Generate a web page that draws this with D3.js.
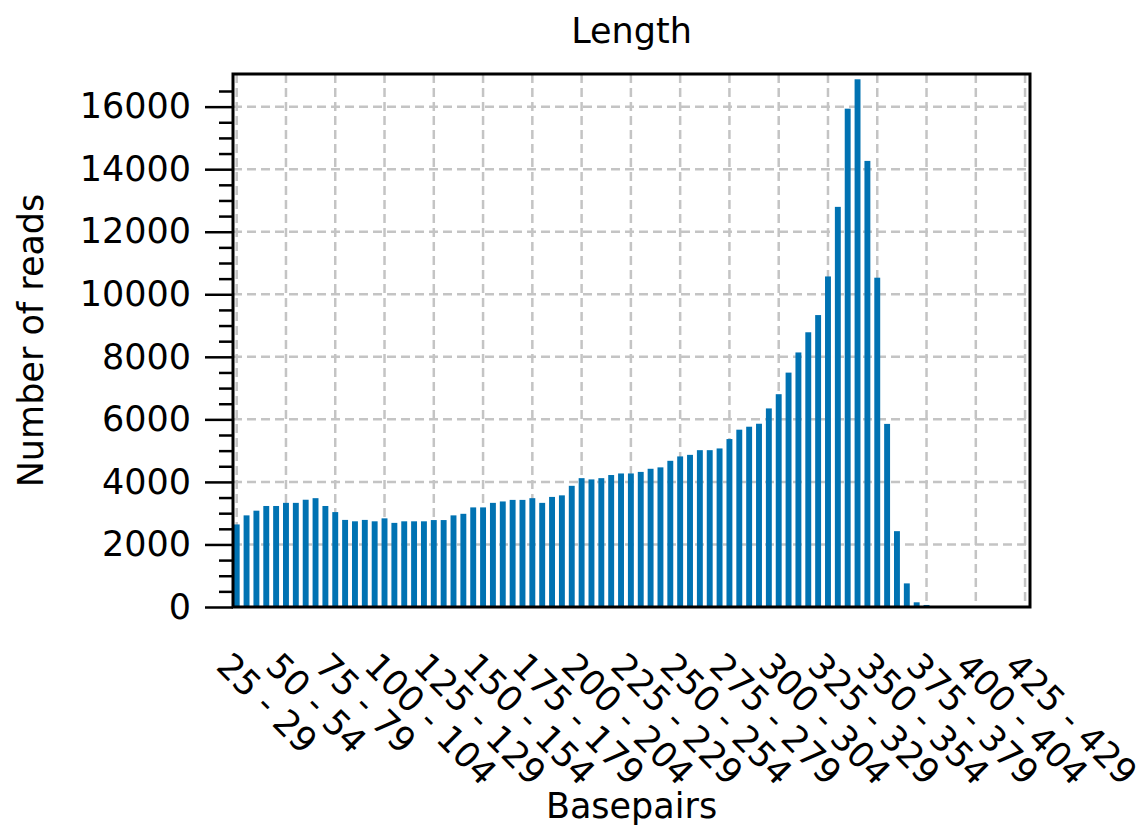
<!DOCTYPE html>
<html>
<head>
<meta charset="utf-8">
<script src="https://cdn.jsdelivr.net/npm/d3@7"></script>
<style>
  body { margin: 0; background: #fff; }
  text { font-family: "DejaVu Sans", sans-serif; fill: #000; }
</style>
</head>
<body>
<svg id="chart" width="1145" height="830"></svg>
<script>

// read counts per 5 bp bin, starting at 25 - 29
const binStarts = d3.range( 25, 430, 5 );

const readCounts = [
  2640, 2930, 3080, 3230, 3230, 3330, 3330, 3430, 3480, 3230,
  3035, 2785, 2740, 2785, 2740, 2835, 2690, 2740, 2740, 2740,
  2780, 2780, 2930, 2980, 3185, 3185, 3330, 3375, 3425, 3425,
  3480, 3330, 3520, 3570, 3875, 4120, 4080, 4120, 4220, 4270,
  4270, 4320, 4420, 4465, 4675, 4815, 4865, 5015, 5015, 5070,
  5370, 5670, 5765, 5860, 6350, 6805, 7495, 8140, 8785, 9335,
  10570, 12795, 15935, 16875, 14265, 10530, 5855, 2425, 755, 150,
  65, 0, 0, 0, 0, 0, 0, 0, 0, 0, 0
];

const tickLabels = [
  "25 - 29", "50 - 54", "75 - 79", "100 - 104", "125 - 129", "150 - 154",
  "175 - 179", "200 - 204", "225 - 229", "250 - 254", "275 - 279",
  "300 - 304", "325 - 329", "350 - 354", "375 - 379", "400 - 404", "425 - 429"
];

const yTicks = [ 0, 2000, 4000, 6000, 8000, 10000, 12000, 14000, 16000 ];

const plot = { left: 233, right: 1030, top: 74, bottom: 607 };
const bar_color = "#0072b2";
const grid_color = "#c4c4c4";
const font_size = "35px";

const svg = d3.select( "#chart" );

const x = d3.scaleLinear()
  .domain( [ -0.375, readCounts.length - 0.5 ] )
  .range( [ plot.left, plot.right ] );

const y = d3.scaleLinear()
  .domain( [ 0, d3.max( readCounts ) * 1.01 ] )
  .range( [ plot.bottom, plot.top ] );

const tickIdx = tickLabels.map( ( d, i ) => i * 5 );

// grid
svg.append( "g" )
  .selectAll( "line" )
  .data( tickIdx )
  .enter().append( "line" )
    .attr( "x1", d => x( d ) )
    .attr( "x2", d => x( d ) )
    .attr( "y1", plot.top )
    .attr( "y2", plot.bottom )
    .attr( "stroke", grid_color )
    .attr( "stroke-width", 2.5 )
    .attr( "stroke-dasharray", "9,5" );

svg.append( "g" )
  .selectAll( "line" )
  .data( yTicks.slice( 1 ) )
  .enter().append( "line" )
    .attr( "x1", plot.left )
    .attr( "x2", plot.right )
    .attr( "y1", d => y( d ) )
    .attr( "y2", d => y( d ) )
    .attr( "stroke", grid_color )
    .attr( "stroke-width", 2.5 )
    .attr( "stroke-dasharray", "9,5" );

// bars
const bw = 0.6 * ( x( 1 ) - x( 0 ) );

svg.append( "g" )
  .selectAll( "rect" )
  .data( readCounts )
  .enter().append( "rect" )
    .attr( "x", ( d, i ) => x( i ) - bw / 2 )
    .attr( "y", d => y( d ) )
    .attr( "width", bw )
    .attr( "height", d => plot.bottom - y( d ) )
    .attr( "fill", bar_color );

// y axis with minor ticks
const yAxis = d3.axisLeft( y )
  .tickValues( yTicks )
  .tickSize( 28 )
  .tickPadding( 14 )
  .tickFormat( d3.format( "d" ) );

const yMinor = d3.axisLeft( y )
  .tickValues( d3.range( 0, 17000, 500 ).filter( v => v % 2000 !== 0 ) )
  .tickSize( 14 )
  .tickFormat( "" );

svg.append( "g" )
  .attr( "transform", `translate(${ plot.left },0)` )
  .call( yMinor )
  .call( g => g.select( ".domain" ).remove() )
  .call( g => g.selectAll( "line" ).attr( "stroke-width", 2.5 ) );

svg.append( "g" )
  .attr( "transform", `translate(${ plot.left },0)` )
  .call( yAxis )
  .call( g => g.select( ".domain" ).remove() )
  .call( g => g.selectAll( "line" ).attr( "stroke-width", 2.5 ) )
  .call( g => g.selectAll( "text" )
    .style( "font-size", font_size )
    .style( "font-family", "DejaVu Sans" )
    .attr( "fill", "#000" ) );

// frame
svg.append( "rect" )
  .attr( "x", plot.left )
  .attr( "y", plot.top )
  .attr( "width", plot.right - plot.left )
  .attr( "height", plot.bottom - plot.top )
  .attr( "fill", "none" )
  .attr( "stroke", "#000" )
  .attr( "stroke-width", 3 );

// rotated x tick labels
svg.append( "g" )
  .selectAll( "text" )
  .data( tickLabels )
  .enter().append( "text" )
    .attr( "transform", ( d, i ) => `translate(${ x( tickIdx[ i ] ) - 22 },668) rotate(45)` )
    .attr( "text-anchor", "start" )
    .style( "font-size", font_size )
    .text( d => d );

// titles
svg.append( "text" )
  .attr( "x", ( plot.left + plot.right ) / 2 )
  .attr( "y", 43 )
  .attr( "text-anchor", "middle" )
  .style( "font-size", font_size )
  .text( "Length" );

svg.append( "text" )
  .attr( "x", ( plot.left + plot.right ) / 2 )
  .attr( "y", 818 )
  .attr( "text-anchor", "middle" )
  .style( "font-size", font_size )
  .text( "Basepairs" );

svg.append( "text" )
  .attr( "transform", `translate(43,${ ( plot.top + plot.bottom ) / 2 }) rotate(-90)` )
  .attr( "text-anchor", "middle" )
  .style( "font-size", font_size )
  .text( "Number of reads" );

</script>
</body>
</html>
